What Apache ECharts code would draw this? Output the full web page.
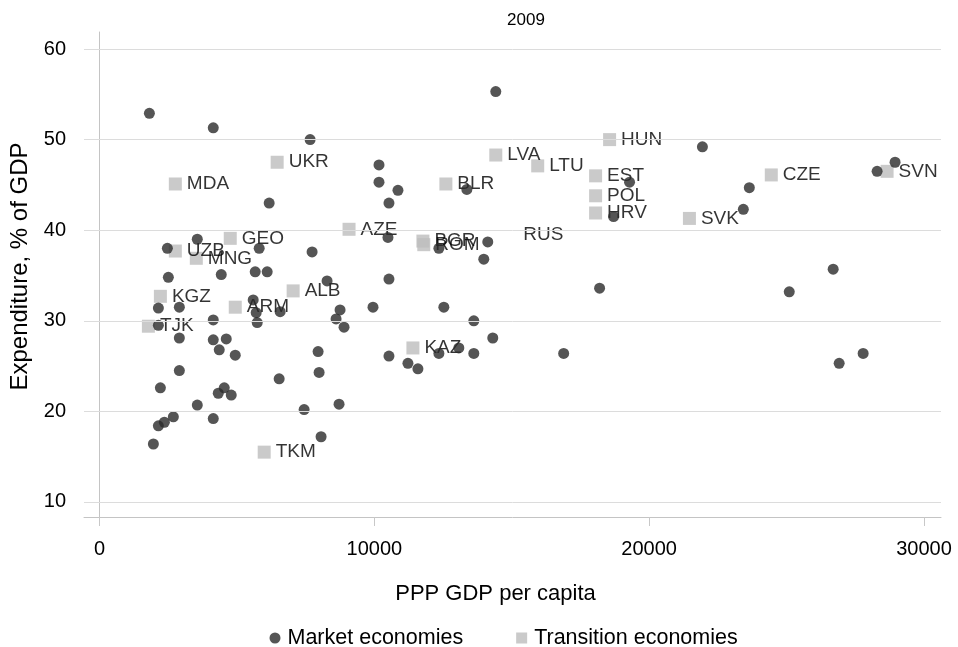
<!DOCTYPE html>
<html>
<head>
<meta charset="utf-8">
<script src="https://cdn.jsdelivr.net/npm/echarts@6/dist/echarts.min.js"></script>
<style>
  html, body { margin: 0; padding: 0; background: #ffffff; }
  #chart { width: 958px; height: 647px; }
</style>
</head>
<body>
<div id="chart"></div>
<script>
// Government expenditure vs. income, 2009
const chartTitle = '2009';
const xTicks = [0, 10000, 20000, 30000];
const yTicks = [10, 20, 30, 40, 50, 60];

// Market economies: PPP GDP per capita / expenditure (% of GDP)
const marketGdp = [
  1816, 4140, 7664, 14419, 10170, 10170, 10860, 10533, 6174, 13366,
  19286, 18705, 21937, 23644, 23426, 28293, 28947, 3559, 2470, 5811,
  7736, 2506, 4431, 5666, 6102, 8281, 5593, 2143, 2906, 5702,
  6574, 8753, 9952, 4140, 8608, 8898, 5739, 2143, 2906, 4140,
  4613, 4358, 4940, 7954, 7991, 6538, 2906, 2216, 4322, 4540,
  4794, 3559, 7446, 8717, 4140, 2143, 2361, 2688, 1961, 8063,
  10496, 14128, 12349, 13983, 10533, 18196, 12530, 13620, 14310, 10533,
  11223, 11586, 12349, 13075, 13620, 16889, 26695, 25097, 27785, 26913
];
const marketExp = [
  52.9, 51.3, 50.0, 55.3, 47.2, 45.3, 44.4, 43.0, 43.0, 44.5,
  45.3, 41.5, 49.2, 44.7, 42.3, 46.5, 47.5, 39.0, 38.0, 38.0,
  37.6, 34.8, 35.1, 35.4, 35.4, 34.4, 32.3, 31.4, 31.5, 30.9,
  31.0, 31.2, 31.5, 30.1, 30.2, 29.3, 29.8, 29.5, 28.1, 27.9,
  28.0, 26.8, 26.2, 26.6, 24.3, 23.6, 24.5, 22.6, 22.0, 22.6,
  21.8, 20.7, 20.2, 20.8, 19.2, 18.4, 18.8, 19.4, 16.4, 17.2,
  39.2, 38.7, 38.0, 36.8, 34.6, 33.6, 31.5, 30.0, 28.1, 26.1,
  25.3, 24.7, 26.4, 27.0, 26.4, 26.4, 35.7, 33.2, 26.4, 25.3
];

// Transition economies, labelled by country code
const transitionCodes = [
  'HUN', 'LVA', 'LTU', 'UKR', 'MDA', 'BLR', 'EST', 'POL', 'HRV', 'CZE',
  'SVN', 'SVK', 'AZE', 'BGR', 'ROM', 'GEO', 'UZB', 'MNG', 'KGZ', 'TJK',
  'ARM', 'ALB', 'KAZ', 'TKM', 'RUS'
];
const transitionGdp = [
  18560, 14419, 15944, 6465, 2760, 12603, 18051, 18051, 18051, 24443,
  28656, 21465, 9080, 11768, 11800, 4758, 2760, 3523, 2216, 1780,
  4940, 7046, 11404, 5993, 15000
];
const transitionExp = [
  50.0, 48.3, 47.1, 47.5, 45.1, 45.1, 46.0, 43.8, 41.9, 46.1,
  46.5, 41.3, 40.1, 38.8, 38.4, 39.1, 37.7, 36.9, 32.7, 29.4,
  31.5, 33.3, 27.0, 15.5, 39.5
];
// codes whose marker is not drawn (label only)
const hiddenMarkers = ['RUS'];

const FONT = '"Liberation Sans", Arial, Helvetica, sans-serif';
const TEXT = '#000000';
const DOT = '#2b2b2b';
const SQUARE = '#bdbdbd';

const marketData = marketGdp.map((g, i) => [g, marketExp[i]]);
const transitionData = transitionCodes.map((c, i) => {
  const item = { name: c, value: [transitionGdp[i], transitionExp[i]] };
  if (hiddenMarkers.includes(c)) item.itemStyle = { color: 'rgba(0,0,0,0)' };
  return item;
});

const plainNumber = v => String(v);

const chart = echarts.init(document.getElementById('chart'), null, { renderer: 'canvas' });

chart.setOption({
  animation: false,
  backgroundColor: '#ffffff',
  textStyle: { fontFamily: FONT },
  title: {
    text: chartTitle,
    left: 521,
    top: 7,
    textAlign: 'center',
    textStyle: { fontFamily: FONT, fontSize: 17, fontWeight: 'normal', color: TEXT }
  },
  legend: {
    left: 264.5,
    top: 622,
    itemGap: 53,
    itemWidth: 11,
    itemHeight: 11,
    textStyle: { fontFamily: FONT, fontSize: 21.5, color: TEXT, padding: [0, 0, 0, 2] },
    data: [
      { name: 'Market economies', icon: 'circle', itemStyle: { color: DOT } },
      { name: 'Transition economies', icon: 'rect', itemStyle: { color: SQUARE } }
    ]
  },
  grid: { left: 82.5, right: 17, top: 32, bottom: 130, containLabel: false },
  xAxis: {
    type: 'value',
    min: -563,
    max: 30618,
    name: 'PPP GDP per capita',
    nameLocation: 'middle',
    nameGap: 66,
    nameTextStyle: { fontFamily: FONT, fontSize: 22, color: TEXT, padding: [0, 34, 0, 0] },
    axisLine: { show: true, lineStyle: { color: '#c4c4c4', width: 1 } },
    axisTick: { show: true, length: 9, customValues: xTicks, lineStyle: { color: '#c8c8c8' } },
    axisLabel: { customValues: xTicks, formatter: plainNumber, margin: 22, fontFamily: FONT, fontSize: 20, color: TEXT },
    splitLine: { show: false }
  },
  yAxis: {
    type: 'value',
    min: 8.34,
    max: 61.88,
    name: 'Expenditure, % of GDP',
    nameLocation: 'middle',
    nameRotate: 90,
    nameGap: 52,
    nameTextStyle: { fontFamily: FONT, fontSize: 24, color: TEXT, padding: [0, 0, 0, 16] },
    axisLine: { show: true, lineStyle: { color: '#c4c4c4', width: 1 } },
    axisTick: { show: true, length: 6, customValues: yTicks, lineStyle: { color: '#c8c8c8' } },
    axisLabel: { customValues: yTicks, formatter: plainNumber, margin: 18, fontFamily: FONT, fontSize: 20, color: TEXT },
    splitLine: { show: false }
  },
  series: [
    {
      // horizontal reference lines at each y tick
      name: 'gridlines',
      type: 'scatter',
      data: [],
      silent: true,
      z: 1,
      markLine: {
        silent: true,
        symbol: 'none',
        label: { show: false },
        lineStyle: { color: '#dcdcdc', width: 1, type: 'solid' },
        data: yTicks.map(v => ({ yAxis: v }))
      }
    },
    {
      name: 'Transition economies',
      type: 'scatter',
      symbol: 'rect',
      symbolSize: 13,
      itemStyle: { color: SQUARE },
      label: {
        show: true,
        position: 'right',
        distance: 5,
        formatter: p => p.name,
        fontFamily: FONT,
        fontSize: 19,
        color: TEXT
      },
      data: transitionData,
      z: 2
    },
    {
      name: 'Market economies',
      type: 'scatter',
      symbol: 'circle',
      symbolSize: 11,
      itemStyle: { color: DOT },
      data: marketData,
      z: 3
    }
  ]
});
</script>
</body>
</html>
